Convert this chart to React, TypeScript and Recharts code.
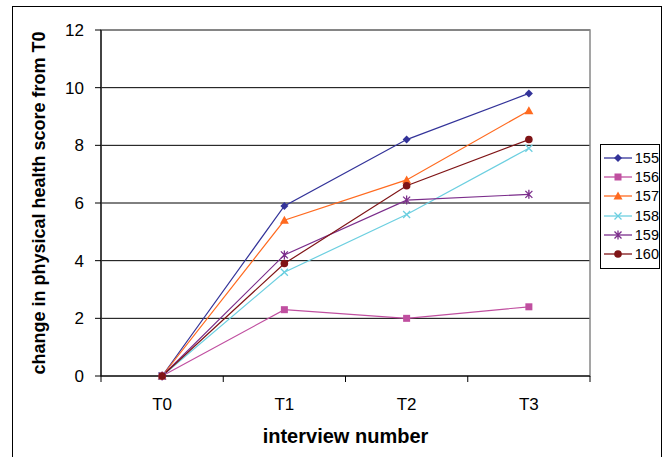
import React from "react";
import { LineChart, Line, XAxis, YAxis, CartesianGrid, ReferenceArea, Legend } from "recharts";

// interview rounds
const categories = ["T0", "T1", "T2", "T3"];
const seriesNames = ["155", "156", "157", "158", "159", "160"];

// change in physical health score per patient
const s155 = [0, 5.9, 8.2, 9.8];
const s156 = [0, 2.3, 2.0, 2.4];
const s157 = [0, 5.4, 6.8, 9.2];
const s158 = [0, 3.6, 5.6, 7.9];
const s159 = [0, 4.2, 6.1, 6.3];
const s160 = [0, 3.9, 6.6, 8.2];

const yTicks = [0, 2, 4, 6, 8, 10, 12];

const values = [s155, s156, s157, s158, s159, s160];
const colors = ["#333399", "#C04FA0", "#FF6A1F", "#6CCFE0", "#7B2D8B", "#7F1416"];
const shapes = ["diamond", "square", "triangle", "x", "star", "circle"];

const data = categories.map((c, i) => {
  const row: any = { idx: i, cat: c };
  seriesNames.forEach((n, k) => {
    row["s" + n] = values[k][i];
  });
  return row;
});

// x ticks at category centers (labels) and band edges (tick marks)
const xTicks: number[] = [];
for (let i = 0; i <= categories.length * 2; i++) xTicks.push(i / 2 - 0.5);

const FONT = "'Liberation Sans', Arial, sans-serif";

function Marker({ shape, cx, cy, color }: any) {
  if (cx == null || cy == null) return null;
  switch (shape) {
    case "diamond":
      return <path d={`M${cx},${cy - 4}L${cx + 4},${cy}L${cx},${cy + 4}L${cx - 4},${cy}Z`} fill={color} />;
    case "square":
      return <rect x={cx - 3.5} y={cy - 3.5} width={7} height={7} fill={color} />;
    case "triangle":
      return <path d={`M${cx},${cy - 4.5}L${cx + 4.5},${cy + 3.5}L${cx - 4.5},${cy + 3.5}Z`} fill={color} />;
    case "x":
      return (
        <path d={`M${cx - 3.5},${cy - 3.5}L${cx + 3.5},${cy + 3.5}M${cx + 3.5},${cy - 3.5}L${cx - 3.5},${cy + 3.5}`} stroke={color} strokeWidth={1.3} />
      );
    case "star":
      return (
        <path
          d={`M${cx - 3.5},${cy - 3.5}L${cx + 3.5},${cy + 3.5}M${cx + 3.5},${cy - 3.5}L${cx - 3.5},${cy + 3.5}M${cx},${cy - 4.5}L${cx},${cy + 4.5}`}
          stroke={color}
          strokeWidth={1.3}
        />
      );
    default:
      return <circle cx={cx} cy={cy} r={3.8} fill={color} />;
  }
}

const XTick = (props: any) => {
  const { x, y, payload } = props;
  const v = payload.value;
  if (Number.isInteger(v)) {
    return (
      <text x={x} y={y + 28} textAnchor="middle" fontSize={17} fill="#000" fontFamily={FONT}>
        {categories[v]}
      </text>
    );
  }
  return <line x1={x} x2={x} y1={y - 6} y2={y} stroke="#000" />;
};

const YLabel = (props: any) => {
  const vb = props.viewBox || { x: 0, y: 0, width: 0, height: 0 };
  const cx = 39;
  const cy = vb.y + vb.height / 2;
  return (
    <text x={cx} y={cy} transform={`rotate(-90 ${cx} ${cy})`} textAnchor="middle" dominantBaseline="central"
      fontSize={18} fontWeight="bold" fill="#000" fontFamily={FONT}>
      change in physical health score from T0
    </text>
  );
};

const XLabel = (props: any) => {
  const vb = props.viewBox || { x: 0, y: 0, width: 0, height: 0 };
  return (
    <text x={vb.x + vb.width / 2} y={vb.y + 67} textAnchor="middle" fontSize={20} fontWeight="bold" fill="#000" fontFamily={FONT}>
      interview number
    </text>
  );
};

const LegendBox = () => (
  <div style={{ border: "1px solid #000", width: 60, boxSizing: "border-box", padding: "3px 0 4px 0", background: "#fff" }}>
    {seriesNames.map((n, k) => (
      <div key={n} style={{ display: "flex", alignItems: "center", height: 19.3 }}>
        <svg width={34} height={12} style={{ display: "block" }}>
          <line x1={3} x2={31} y1={6} y2={6} stroke={colors[k]} strokeWidth={1.3} />
          <Marker shape={shapes[k]} cx={17} cy={6} color={colors[k]} />
        </svg>
        <span style={{ fontSize: 14.5, fontFamily: FONT, color: "#000", lineHeight: "14px" }}>{n}</span>
      </div>
    ))}
  </div>
);

export default function App() {
  return (
    <div style={{ position: "absolute", left: 0, top: 0, width: 665, height: 457, overflow: "hidden", background: "#fff" }}>
      <div style={{ position: "absolute", left: 12, top: 6, width: 650, height: 480, border: "1.5px solid #000", boxSizing: "border-box" }} />
      <div style={{ position: "absolute", left: 0, top: 0 }}>
        <LineChart width={665} height={457} data={data} margin={{ top: 30, right: 75, bottom: 21, left: 41 }} style={{ fontFamily: FONT }}>
          <CartesianGrid vertical={false} stroke="#000" strokeWidth={1} />
          <ReferenceArea x1={-0.5} x2={3.5} y1={0} y2={12} fill="none" stroke="#888" strokeWidth={1.5} />
          <XAxis
            type="number"
            dataKey="idx"
            domain={[-0.5, 3.5]}
            ticks={xTicks}
            interval={0}
            tickLine={false}
            tickSize={6}
            tickMargin={0}
            tick={<XTick />}
            axisLine={{ stroke: "#000", strokeWidth: 1.2 }}
            height={60}
            label={<XLabel />}
          />
          <YAxis
            domain={[0, 12]}
            ticks={yTicks}
            interval={0}
            width={60}
            tickSize={6}
            tickMargin={11}
            tick={{ fill: "#000", fontSize: 17, fontFamily: FONT }}
            tickLine={{ stroke: "#000" }}
            axisLine={{ stroke: "#000", strokeWidth: 1.2 }}
            label={<YLabel />}
          />
          <Legend layout="horizontal" verticalAlign="middle" align="center" content={<LegendBox />}
            wrapperStyle={{ position: "absolute", left: 600, top: 144, width: 61 }} />
          {seriesNames.map((n, k) => (
            <Line
              key={n}
              type="linear"
              dataKey={"s" + n}
              name={n}
              stroke={colors[k]}
              strokeWidth={1.2}
              isAnimationActive={false}
              dot={(p: any) => (
                <g key={n + "-" + p.index}>
                  <Marker shape={shapes[k]} cx={p.cx} cy={p.cy} color={colors[k]} />
                </g>
              )}
              activeDot={false}
            />
          ))}
        </LineChart>
      </div>
    </div>
  );
}
